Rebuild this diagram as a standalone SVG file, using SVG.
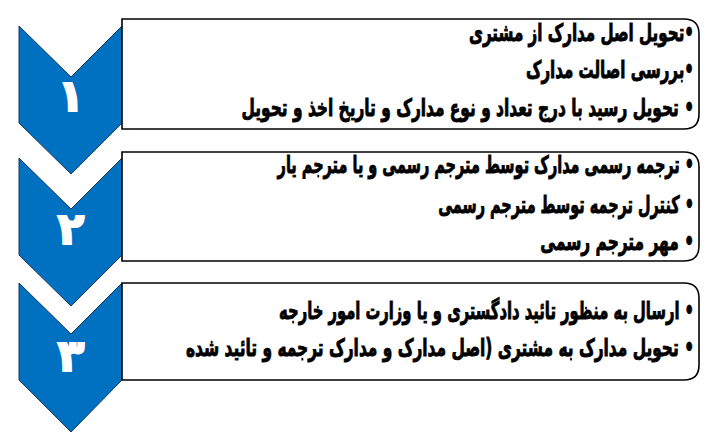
<svg xmlns="http://www.w3.org/2000/svg" width="715" height="441" viewBox="0 0 715 441">
<style>
.chev{fill:#0070C0;stroke:#17375E;stroke-width:1}
.box{fill:#FFFFFF;stroke:#000000;stroke-width:1.6}
.num{font-family:"DejaVu Sans",sans-serif;font-weight:bold;font-size:44px;fill:#FFFFFF;stroke:#FFFFFF;stroke-width:2;text-anchor:middle}
.t{font-family:"DejaVu Sans",sans-serif;font-weight:bold;font-size:24px;fill:#000000;stroke:#000000;stroke-width:0.9;text-anchor:end}
</style>
<rect width="715" height="441" fill="#FFFFFF"/>
<g id="step1">
<path class="chev" d="M19,26 L71,77 L122,26 L122,123 L71,174 L19,123 Z"/>
<text class="num" x="71" y="111">۱</text>
<path class="box" d="M122,19 H684 Q699,19 699,34 V114 Q699,129 684,129 H122 Z"/>
<text class="t" transform="translate(694,41) scale(0.631,1)">&#x200F;•تحویل اصل مدارک از مشتری</text>
<text class="t" transform="translate(694,78) scale(0.628,1)">&#x200F;•بررسی اصالت مدارک</text>
<text class="t" transform="translate(694,116) scale(0.642,1)">&#x200F;• تحویل رسید با درج تعداد و نوع مدارک و تاریخ اخذ و تحویل</text>
</g>
<g id="step2">
<path class="chev" d="M19,158 L71,209 L122,158 L122,255 L71,306 L19,255 Z"/>
<text class="num" x="71" y="244">۲</text>
<path class="box" d="M122,152 H684 Q699,152 699,167 V246 Q699,261 684,261 H122 Z"/>
<text class="t" transform="translate(694,173) scale(0.603,1)">&#x200F;• ترجمه رسمی مدارک توسط مترجم رسمی و یا مترجم یار</text>
<text class="t" transform="translate(694,213) scale(0.602,1)">&#x200F;• کنترل ترجمه توسط مترجم رسمی</text>
<text class="t" transform="translate(694,250) scale(0.642,1)">&#x200F;• مهر مترجم رسمی</text>
</g>
<g id="step3">
<path class="chev" d="M19,283 L71,334 L122,283 L122,380 L71,432 L19,380 Z"/>
<text class="num" x="71" y="371">۳</text>
<path class="box" d="M122,283 H684 Q699,283 699,298 V365 Q699,380 684,380 H122 Z"/>
<text class="t" transform="translate(694,319) scale(0.615,1)">&#x200F;• ارسال به منظور تائید دادگستری و یا وزارت امور خارجه</text>
<text class="t" transform="translate(694,356) scale(0.643,1)">&#x200F;• تحویل مدارک به مشتری (اصل مدارک و مدارک ترجمه و تائید شده</text>
</g>
<g id="connectors"></g>
</svg>
